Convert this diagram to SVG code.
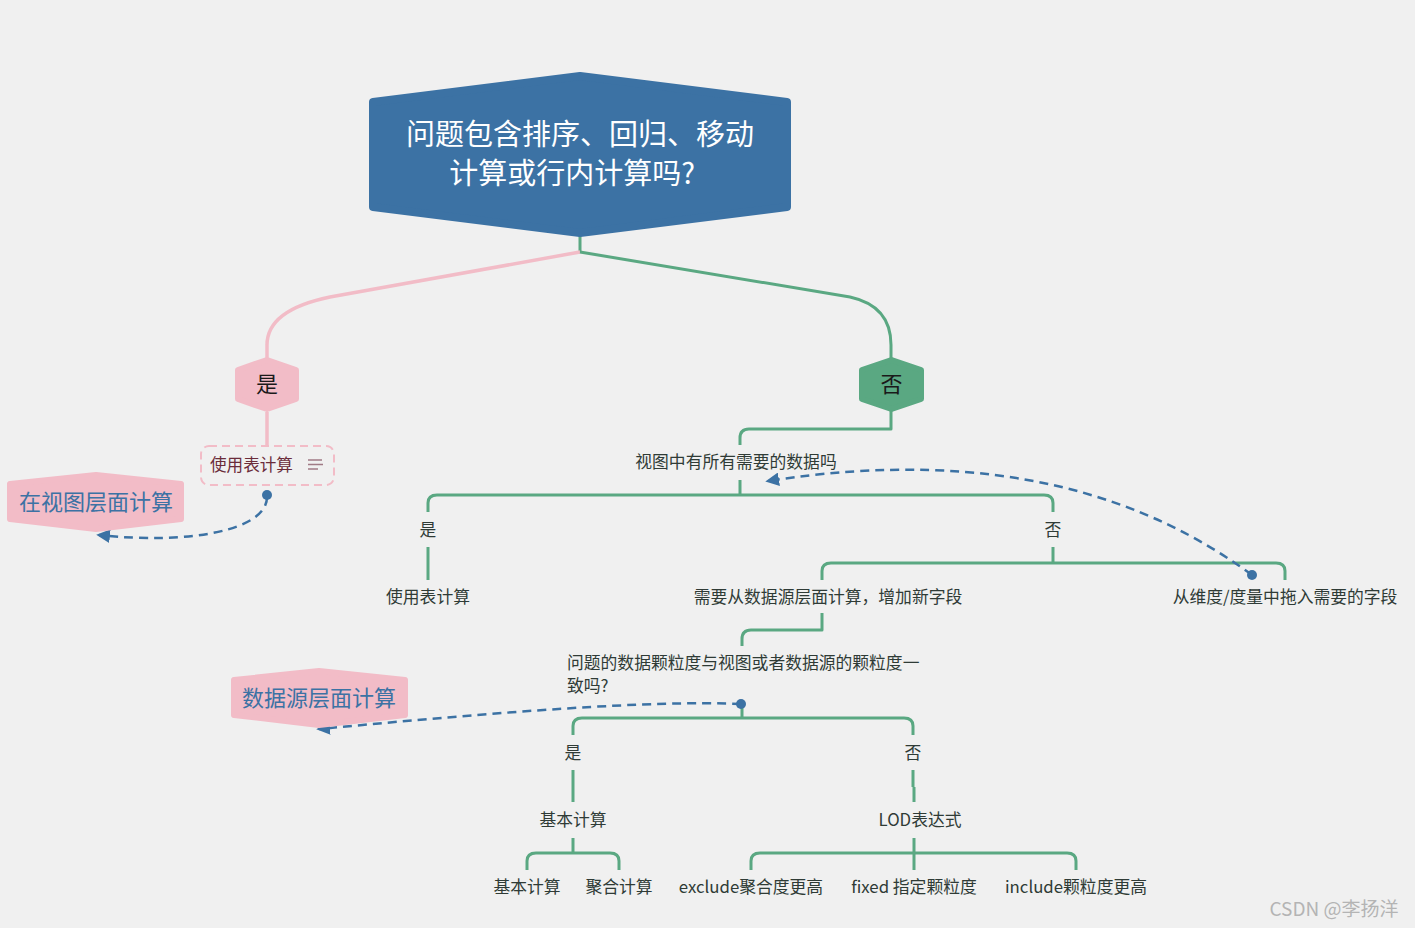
<svg xmlns="http://www.w3.org/2000/svg" width="1415" height="928" viewBox="0 0 1415 928">
<defs>
<marker id="arr" viewBox="0 0 10 10" refX="8" refY="5" markerWidth="5.5" markerHeight="5.5" orient="auto-start-reverse" markerUnits="strokeWidth">
<path d="M0,0 L10,5 L0,10 z" fill="#3c72a4"/>
</marker>
<style>
text{font-family:"Noto Sans CJK SC","Noto Sans",sans-serif}
.g{fill:none;stroke:#5aa882;stroke-width:3;stroke-linejoin:round}
.p{fill:none;stroke:#f2bcc7;stroke-width:3.5}
.d{fill:none;stroke:#3c72a4;stroke-width:2.5;stroke-dasharray:9,6}
.lbl{font-size:16.8px;fill:#2f3b36;text-anchor:middle}
.hexp{fill:#f2bcc7;stroke:#f2bcc7;stroke-width:6;stroke-linejoin:round}
.hexg{fill:#5aa882;stroke:#5aa882;stroke-width:6;stroke-linejoin:round}
.big{font-size:22px;fill:#3c72a4;text-anchor:middle}
.dot{fill:#3c72a4}
</style>
</defs>
<rect width="1415" height="928" fill="#f0f0f0"/>

<g id="connectors">
<path class="g" d="M580,236 V252"/>
<path class="p" d="M580,252 L330,297 Q267,310 267,345 V358"/>
<path class="g" d="M580,252 L850,297 Q891,306 891,345 V358"/>
<path class="p" d="M267,412 V446"/>
<path class="g" d="M891,411 V429 H749 Q740,429 740,438 V445"/>
<path class="g" d="M740,480 V495"/>
<path class="g" d="M428,512 V503 Q428,495 437,495 H1044 Q1053,495 1053,503 V512"/>
<path class="g" d="M428,547 V580"/>
<path class="g" d="M1053,547 V563"/>
<path class="g" d="M822,580 V571 Q822,563 831,563 H1276 Q1285,563 1285,571 V580"/>
<path class="g" d="M822,613 V630 H751 Q742,630 742,639 V646"/>
<path class="g" d="M742,704 V718"/>
<path class="g" d="M573,735 V726 Q573,718 582,718 H904 Q913,718 913,726 V735"/>
<path class="g" d="M573,770 V802"/>
<path class="g" d="M913,770 V787 M914,787 V802"/>
<path class="g" d="M573,838 V853"/>
<path class="g" d="M527,870 V861 Q527,853 536,853 H610 Q619,853 619,861 V870"/>
<path class="g" d="M914,838 V870"/>
<path class="g" d="M751,870 V861 Q751,853 760,853 H1067 Q1076,853 1076,861 V870"/>
<path class="d" d="M267,497 C267,530 190,545 99,535" marker-end="url(#arr)"/>
<path class="d" d="M1252,575 C1150,500 1000,445 768,481" marker-end="url(#arr)"/>
<path class="d" d="M741,704 C650,700 500,712 319,729" marker-end="url(#arr)"/>
<circle class="dot" cx="267" cy="495" r="5"/>
<circle class="dot" cx="1252" cy="575" r="5"/>
<circle class="dot" cx="741" cy="704" r="5"/>
</g>

<g id="root">
<polygon points="580,76 787,102 787,207 580,233 373,207 373,102" fill="#3c72a4" stroke="#3c72a4" stroke-width="8" stroke-linejoin="round"/>
<text x="580" y="145" font-size="29" fill="#ffffff" text-anchor="middle">问题包含排序、回归、移动</text>
<text x="572" y="184" font-size="29" fill="#ffffff" text-anchor="middle">计算或行内计算吗?</text>
</g>

<g id="yes">
<polygon class="hexp" points="267,360 296,370 296,399 267,409 238,399 238,370"/>
<text x="267" y="392" font-size="22" fill="#1a1a1a" text-anchor="middle">是</text>
</g>

<g id="no">
<polygon class="hexg" points="891.5,360 921,370 921,399 891.5,409 862,399 862,370"/>
<text x="891.5" y="392" font-size="22" fill="#1a1a1a" text-anchor="middle">否</text>
</g>

<g id="use-table-calc">
<rect x="201" y="446" width="133" height="39" rx="8" fill="none" stroke="#f2bcc7" stroke-width="2" stroke-dasharray="8,5"/>
<text x="210" y="471" font-size="16.6" fill="#6b2c3a">使用表计算</text>
<path d="M308,460 H322 M308,464.5 H323 M308,469 H318" stroke="#a07a85" stroke-width="1.6" fill="none"/>
</g>

<g id="view-level">
<polygon class="hexp" points="96,475 181,484 181,519 96,529 10,519 10,484"/>
<text class="big" x="96" y="510">在视图层面计算</text>
</g>

<g id="q2">
<text class="lbl" x="736" y="468">视图中有所有需要的数据吗</text>
</g>
<g id="q2-yes"><text class="lbl" x="428" y="536">是</text></g>
<g id="q2-no"><text class="lbl" x="1053" y="536">否</text></g>
<g id="table-calc"><text class="lbl" x="428" y="603">使用表计算</text></g>
<g id="datasource-new-field"><text class="lbl" x="828" y="603">需要从数据源层面计算，增加新字段</text></g>
<g id="drag-fields"><text class="lbl" x="1285" y="603">从维度/度量中拖入需要的字段</text></g>

<g id="q3">
<text x="567" y="669" font-size="16.8" fill="#2f3b36">问题的数据颗粒度与视图或者数据源的颗粒度一</text>
<text x="567" y="692" font-size="16.8" fill="#2f3b36">致吗?</text>
</g>

<g id="datasource-level">
<polygon class="hexp" points="319,671 405,680 405,715 319,725 234,715 234,680"/>
<text class="big" x="319" y="706">数据源层面计算</text>
</g>

<g id="q3-yes"><text class="lbl" x="573" y="759">是</text></g>
<g id="q3-no"><text class="lbl" x="913" y="759">否</text></g>
<g id="basic"><text class="lbl" x="573" y="826">基本计算</text></g>
<g id="lod"><text class="lbl" x="920" y="826">LOD表达式</text></g>
<g id="basic-calc"><text class="lbl" x="527" y="893">基本计算</text></g>
<g id="agg-calc"><text class="lbl" x="619" y="893">聚合计算</text></g>
<g id="exclude"><text class="lbl" x="751" y="893">exclude聚合度更高</text></g>
<g id="fixed"><text class="lbl" x="914" y="893">fixed 指定颗粒度</text></g>
<g id="include"><text class="lbl" x="1076" y="893">include颗粒度更高</text></g>

<text x="1334" y="916" font-size="19" fill="#b4b4b4" text-anchor="middle">CSDN @李扬洋</text>
</svg>
